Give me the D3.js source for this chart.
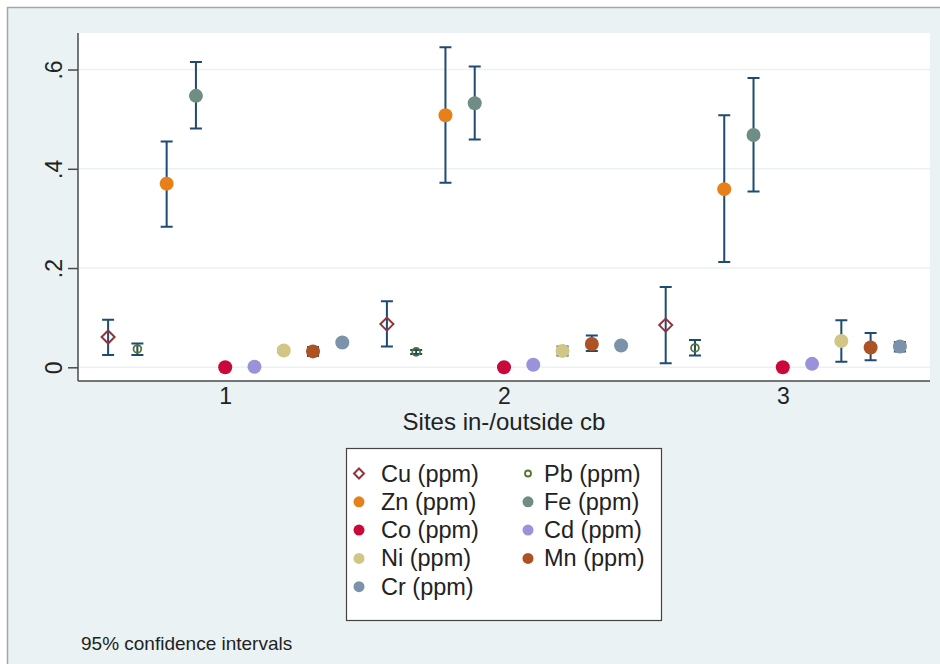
<!DOCTYPE html>
<html>
<head>
<meta charset="utf-8">
<script src="https://cdn.jsdelivr.net/npm/d3@7"></script>
<style>
  body { margin: 0; background: #fff; }
  svg text { font-family: "Liberation Sans", Arial, Helvetica, sans-serif; fill: #222; }
</style>
</head>
<body>
<div id="container"></div>
<script>
// sites on the x axis
const sites = [1, 2, 3];
// metals, in the order they are drawn inside each site group
const metals = ["Cu", "Pb", "Zn", "Fe", "Co", "Cd", "Ni", "Mn", "Cr"];
const labels = metals.map(m => m + " (ppm)");
const colors = ["#90353b", "#55752f", "#e8801a", "#6e8e84", "#c9093a", "#9a93da", "#d0c786", "#ad5223", "#7b92ab"];
const markerKind = ["diamond", "ring", "dot", "dot", "dot", "dot", "dot", "dot", "dot"];

// means per metal (rows) and site (columns)
const means = [
    [0.061, 0.087, 0.085],
    [0.037, 0.031, 0.039],
    [0.370, 0.508, 0.359],
    [0.547, 0.532, 0.468],
    [0.000, 0.000, 0.000],
    [0.001, 0.005, 0.007],
    [0.034, 0.033, 0.053],
    [0.032, 0.047, 0.040],
    [0.050, 0.044, 0.042]
];
// lower bounds of the 95% CI
const lows = [
    [0.025, 0.042, 0.008],
    [0.025, 0.027, 0.024],
    [0.283, 0.372, 0.212],
    [0.481, 0.459, 0.354],
    [0.000, 0.000, 0.000],
    [0.000, 0.003, 0.005],
    [0.029, 0.024, 0.011],
    [0.023, 0.033, 0.014],
    [0.046, 0.040, 0.032]
];
// upper bounds of the 95% CI
const highs = [
    [0.096, 0.133, 0.162],
    [0.048, 0.035, 0.055],
    [0.455, 0.645, 0.508],
    [0.615, 0.606, 0.583],
    [0.000, 0.000, 0.000],
    [0.002, 0.007, 0.009],
    [0.039, 0.042, 0.095],
    [0.041, 0.064, 0.069],
    [0.054, 0.048, 0.051]
];
const yTicks = [0, 0.2, 0.4, 0.6];

const W = 940, H = 664;
const plot = { left: 78, right: 930, top: 33, bottom: 381 };

const svg = d3.select("#container").append("svg")
    .attr("width", W)
    .attr("height", H);

// graph region with the screenshot frame
svg.append("rect").attr("x", 0).attr("y", 0).attr("width", W).attr("height", H).attr("fill", "#fff");
svg.append("rect").attr("x", 7).attr("y", 7).attr("width", W - 7).attr("height", H - 7).attr("fill", "#eaf2f3");
svg.append("path")
    .attr("d", `M7.5,${H} V7.5 H${W}`)
    .attr("fill", "none")
    .attr("stroke", "#a3a7a8")
    .attr("stroke-width", 1.5);

// plot region
svg.append("rect")
    .attr("x", plot.left).attr("y", plot.top)
    .attr("width", plot.right - plot.left).attr("height", plot.bottom - plot.top)
    .attr("fill", "#fff");

const x = d3.scaleLinear().domain([0.472, 3.528]).range([plot.left, plot.right]);
const y = d3.scaleLinear().domain([-0.0276, 0.6736]).range([plot.bottom, plot.top]);
const step = 0.105;
const xPos = (site, i) => x(site + (i - 4) * step);

// grid lines
svg.append("g").selectAll("line")
    .data(yTicks)
    .enter().append("line")
    .attr("x1", plot.left).attr("x2", plot.right)
    .attr("y1", d => y(d)).attr("y2", d => y(d))
    .attr("stroke", "#eaf2f3")
    .attr("stroke-width", 1.5);

// y axis
const yAxis = svg.append("g")
    .attr("transform", `translate(${plot.left},0)`)
    .call(d3.axisLeft(y).tickValues(yTicks).tickSize(10).tickPadding(12)
        .tickFormat(d => d === 0 ? "0" : d3.format(".1f")(d).replace(/^0/, "")));
yAxis.select(".domain").attr("d", `M0,${plot.top} V${plot.bottom}`).attr("stroke", "#4a4a4a").attr("stroke-width", 1.5);
yAxis.selectAll(".tick line").attr("stroke", "#4a4a4a").attr("stroke-width", 1.5);
yAxis.selectAll(".tick text")
    .attr("font-size", 23)
    .attr("text-anchor", "middle")
    .attr("x", null).attr("dy", null)
    .attr("transform", "translate(-24,0) rotate(-90)")
    .attr("dominant-baseline", "central");

// x axis
const xAxis = svg.append("g")
    .attr("transform", `translate(0,${plot.bottom})`)
    .call(d3.axisBottom(x).tickValues(sites).tickSize(0).tickPadding(7).tickFormat(d3.format("d")));
xAxis.select(".domain").attr("d", `M${plot.left},0 H${plot.right}`).attr("stroke", "#4a4a4a").attr("stroke-width", 1.5);
xAxis.selectAll(".tick text").attr("font-size", 23);

svg.append("text")
    .attr("x", (plot.left + plot.right) / 2)
    .attr("y", 430)
    .attr("text-anchor", "middle")
    .attr("font-size", 24)
    .text("Sites in-/outside cb");

// build rows of points from the arrays
const points = [];
metals.forEach((m, i) => {
    sites.forEach((s, j) => {
        points.push({ i: i, site: s, mean: means[i][j], lo: lows[i][j], hi: highs[i][j] });
    });
});

// confidence interval caps
const caps = svg.append("g").attr("stroke", "#1f4a72").attr("stroke-width", 2).attr("fill", "none");
points.forEach(p => {
    const cx = xPos(p.site, p.i);
    caps.append("path")
        .attr("d", `M${cx},${y(p.lo)} V${y(p.hi)} M${cx - 6},${y(p.lo)} H${cx + 6} M${cx - 6},${y(p.hi)} H${cx + 6}`);
});

function drawMarker(g, kind, color, cx, cy, r) {
    if (kind === "diamond") {
        g.append("path")
            .attr("d", `M${cx},${cy - r} L${cx + r},${cy} L${cx},${cy + r} L${cx - r},${cy} Z`)
            .attr("fill", "none").attr("stroke", color).attr("stroke-width", 2);
    } else if (kind === "ring") {
        g.append("circle").attr("cx", cx).attr("cy", cy).attr("r", r * 0.6)
            .attr("fill", "none").attr("stroke", color).attr("stroke-width", 1.8);
    } else {
        g.append("circle").attr("cx", cx).attr("cy", cy).attr("r", r).attr("fill", color);
    }
}

// markers
const marks = svg.append("g");
points.forEach(p => {
    drawMarker(marks, markerKind[p.i], colors[p.i], xPos(p.site, p.i), y(p.mean), p.i < 2 ? 6.5 : 7);
});

// legend
const legend = svg.append("g");
legend.append("rect")
    .attr("x", 346.5).attr("y", 448.5).attr("width", 315).attr("height", 172)
    .attr("fill", "#fff").attr("stroke", "#444").attr("stroke-width", 1.2);
const colX = [359, 528];
const textX = [381, 544];
labels.forEach((lab, i) => {
    const col = i % 2, row = Math.floor(i / 2);
    const cy = 473.5 + row * 28.3;
    drawMarker(legend, markerKind[i], colors[i], colX[col], cy, i < 2 ? 5 : 5.5);
    legend.append("text")
        .attr("x", textX[col]).attr("y", cy)
        .attr("dominant-baseline", "central")
        .attr("font-size", 23.5)
        .text(lab);
});

svg.append("text")
    .attr("x", 81).attr("y", 643)
    .attr("dominant-baseline", "central")
    .attr("font-size", 19)
    .text("95% confidence intervals");
</script>
</body>
</html>
